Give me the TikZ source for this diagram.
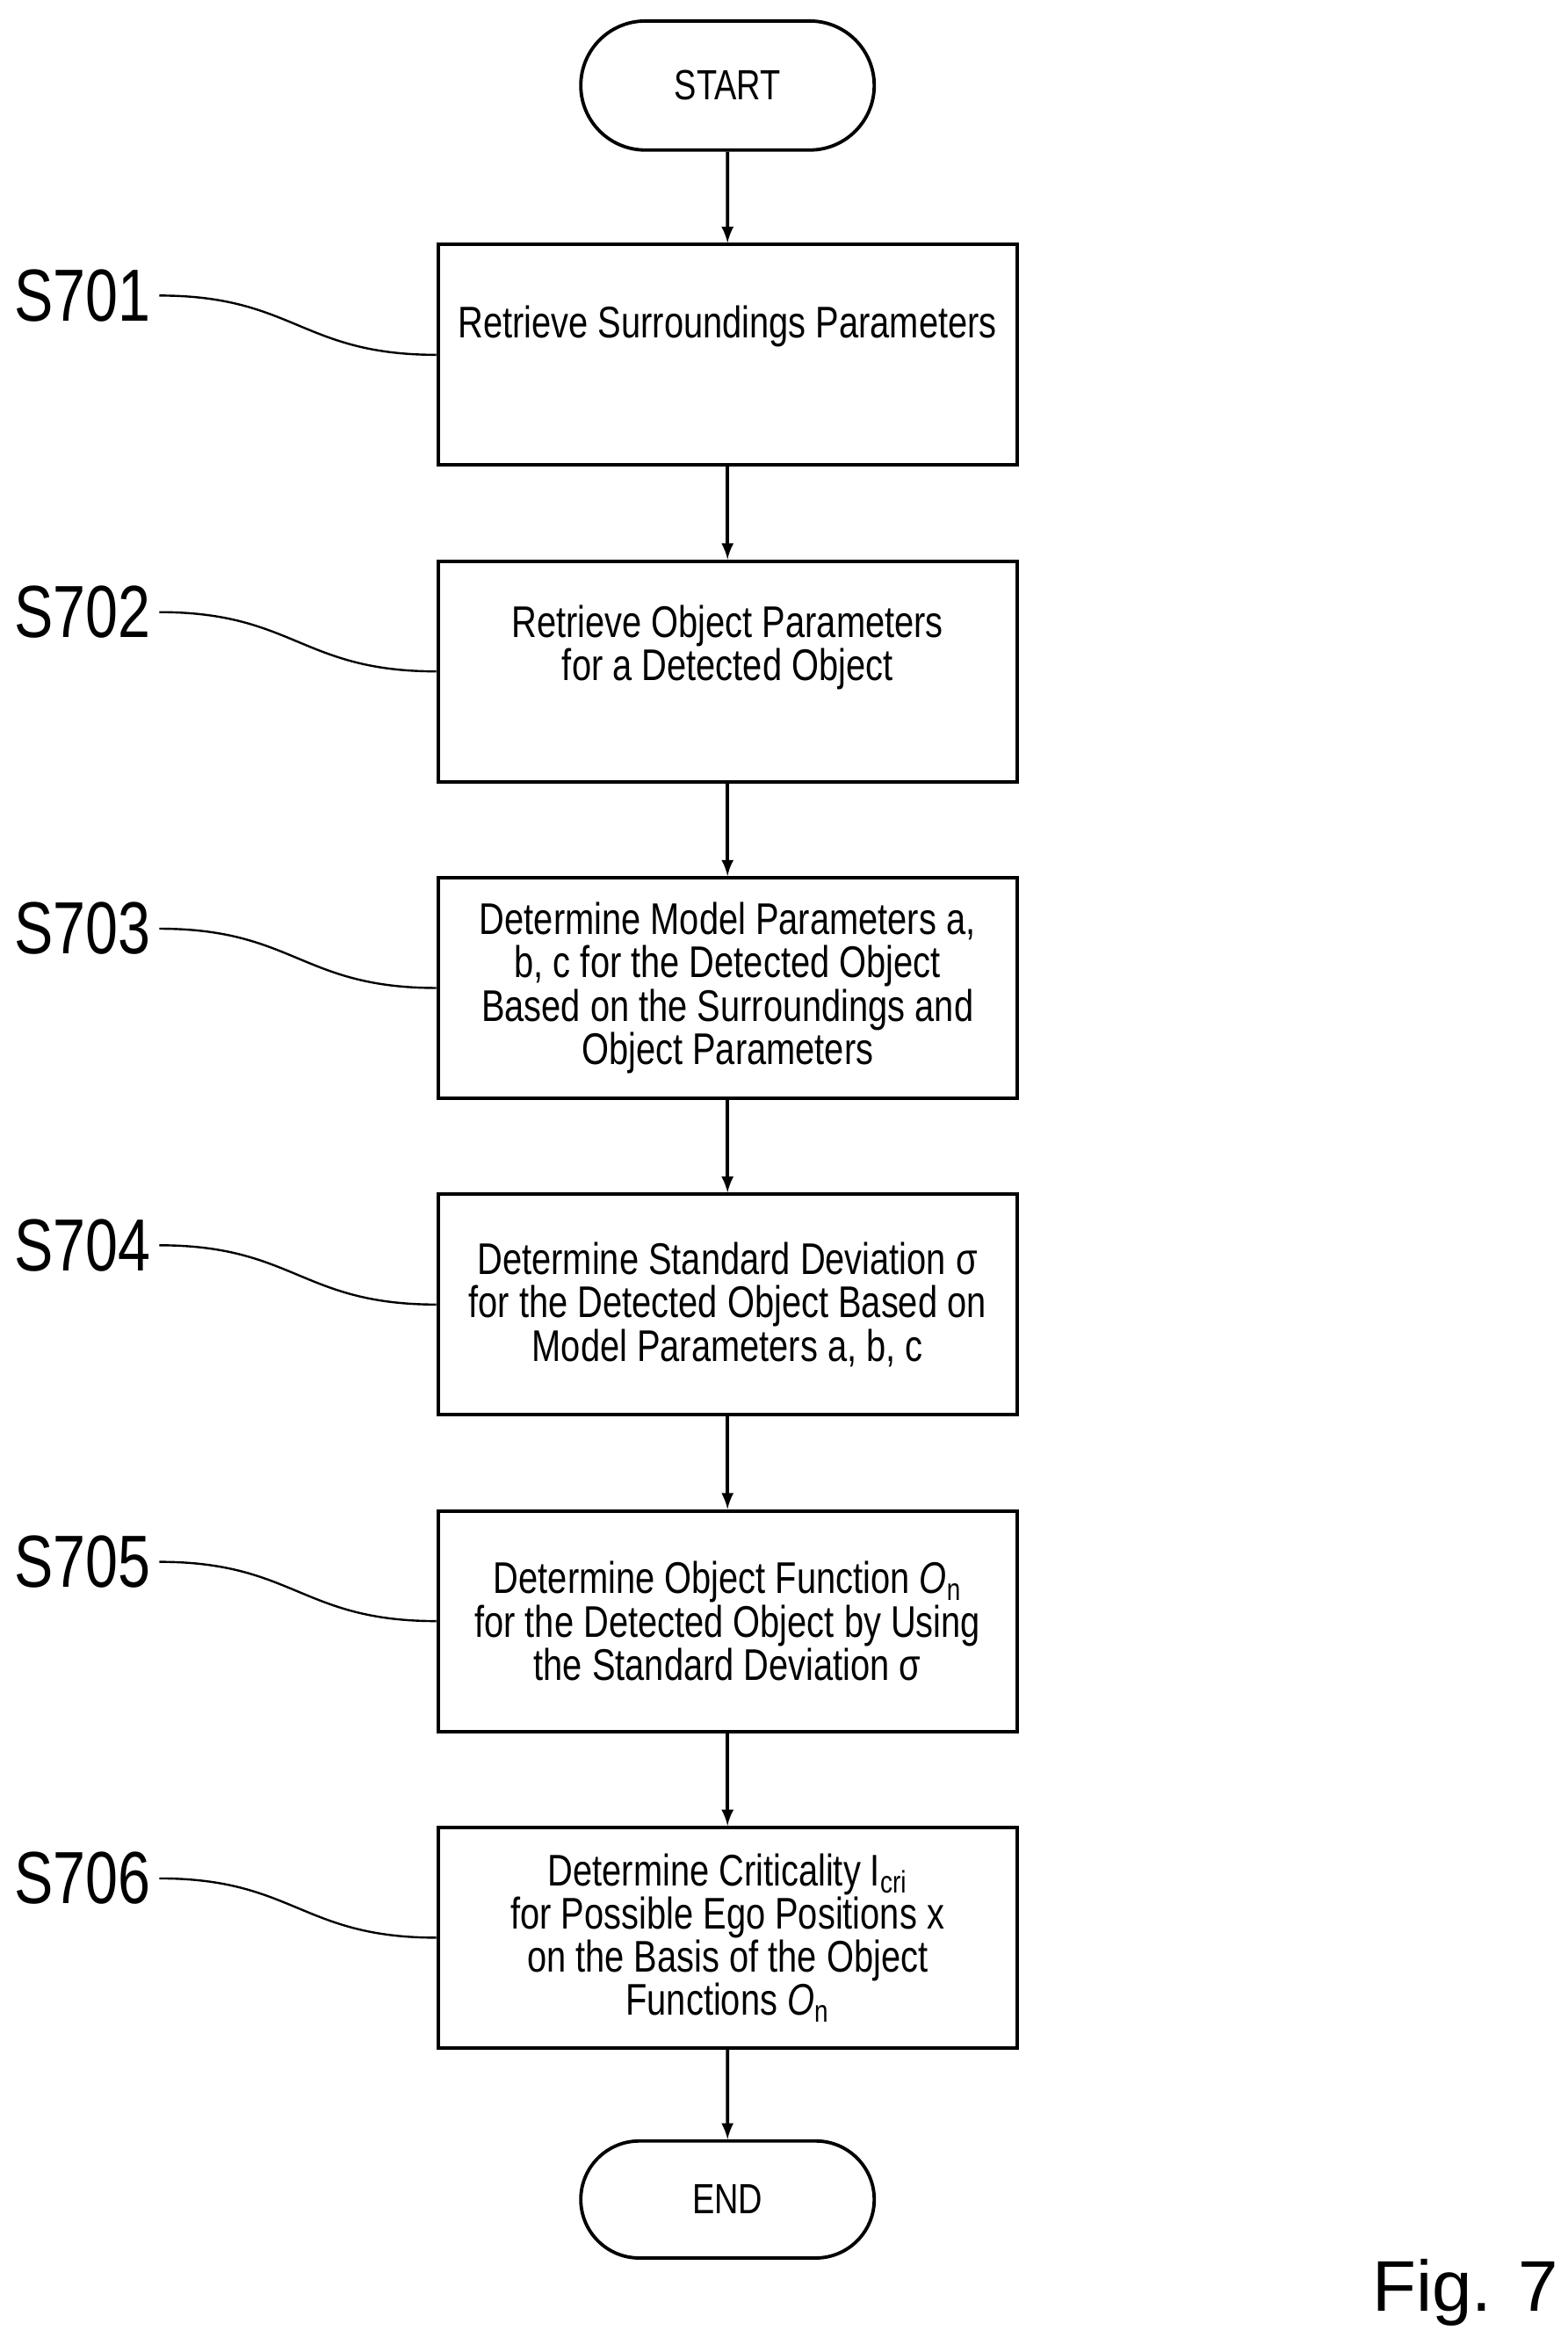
\documentclass[tikz,border=0pt]{standalone}
\usepackage{fontspec}
\setmainfont{Liberation Sans}[FakeStretch=0.79]
\newfontfamily\figfont{Liberation Sans}
\usetikzlibrary{positioning,shapes.misc}
\begin{document}
\begin{tikzpicture}[x=0.025cm,y=-0.025cm,
                    line width=1.6pt,
                    >=latex,
                    ]
    \tikzset{stepbox/.style={draw,minimum width=386*0.025cm,minimum height=147*0.025cm,
                          align=center,font=\fontsize{21}{20.5}\selectfont,inner sep=2pt},
             term/.style={draw,rounded rectangle,minimum width=205*0.025cm,
                          minimum height=86*0.025cm,font=\fontsize{20}{20}\selectfont},
             steplabel/.style={font=\fontsize{35}{35}\selectfont,anchor=center},
             leader/.style={line width=1pt}}
    \useasboundingbox (0,0) rectangle (1045,1563);

    \node[term] (start) at (485,57) {START};
    \node[stepbox] (s1) at (485,236.5) {Retrieve Surroundings Parameters\\[0.5em]};
    \node[stepbox] (s2) at (485,447.5) {Retrieve Object Parameters\\for a Detected Object\\[0.3em]};
    \node[stepbox] (s3) at (485,658.5) {Determine Model Parameters a,\\b, c for the Detected Object\\Based on the Surroundings and\\Object Parameters};
    \node[stepbox] (s4) at (485,869.5) {Determine Standard Deviation σ\\for the Detected Object Based on\\Model Parameters a, b, c};
    \node[stepbox] (s5) at (485,1080.5) {Determine Object Function \textit{O}\textsubscript{n}\\for the Detected Object by Using\\the Standard Deviation σ};
    \node[stepbox] (s6) at (485,1291.5) {Determine Criticality I\textsubscript{cri}\\for Possible Ego Positions x\\on the Basis of the Object\\Functions \textit{O}\textsubscript{n}};
    \node[term,minimum height=78*0.025cm] (end) at (485,1466) {END};

    \draw[->] (start) -- (s1);
    \draw[->] (s1) -- (s2);
    \draw[->] (s2) -- (s3);
    \draw[->] (s3) -- (s4);
    \draw[->] (s4) -- (s5);
    \draw[->] (s5) -- (s6);
    \draw[->] (s6) -- (end);

    \foreach \i/\y in {1/197,2/408,3/619,4/830,5/1041,6/1252} {
        \node[steplabel] (l\i) at (55,\y) {S70\i};
        \draw[leader] (l\i.east) .. controls +(90,0) and +(-90,0) .. (s\i.west);
    }

    \node[font=\figfont\fontsize{34}{34}\selectfont] (fig) at (977,1528) {Fig. 7};
\end{tikzpicture}
\end{document}
